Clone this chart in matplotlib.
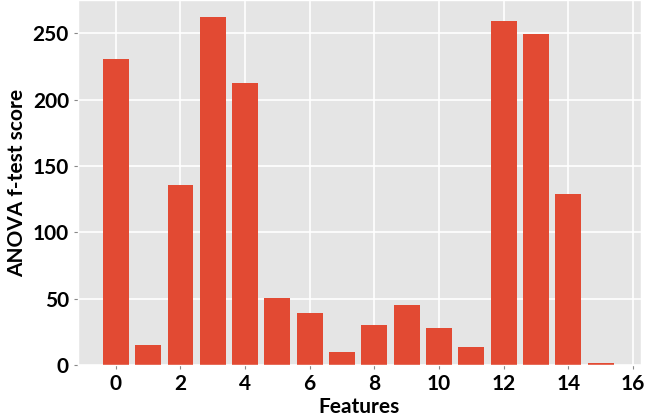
import matplotlib
matplotlib.use("Agg")
import matplotlib.pyplot as plt

plt.style.use("ggplot")
plt.rcParams['font.family'] = ['Lato', 'DejaVu Sans']

features = list(range(16))
scores = [230.4, 15.3, 135.4, 262.0, 212.7, 50.6, 39.0, 10.0,
          30.4, 45.5, 27.6, 13.8, 259.5, 249.5, 129.2, 1.5]
xticks = [0, 2, 4, 6, 8, 10, 12, 14, 16]
yticks = [0, 50, 100, 150, 200, 250]

fig = plt.figure(figsize=(6.45, 4.18), dpi=100)
ax = fig.add_axes([78/645, 1 - 365/418, (641-78)/645, 365/418])
ax.bar(features, scores, width=0.8, color='#E24A33')
ax.set_xlim(-1.17, 16.25)
ax.set_ylim(0, 275)
ax.set_xticks(xticks)
ax.set_yticks(yticks)
ax.grid(True, color='white', linewidth=1.2)
ax.set_axisbelow(True)
for lab in ax.get_xticklabels() + ax.get_yticklabels():
    lab.set_fontweight('bold')
    lab.set_fontsize(15)
    lab.set_color('black')
ax.tick_params(axis='both', colors='#888888', labelcolor='black', length=3)
ax.set_ylabel('ANOVA f-test score', fontsize=15, fontweight='bold', color='black', labelpad=4)
ax.set_xlabel('Features', fontsize=15, fontweight='bold', color='black', labelpad=2)
fig.savefig('out.png', dpi=100)
